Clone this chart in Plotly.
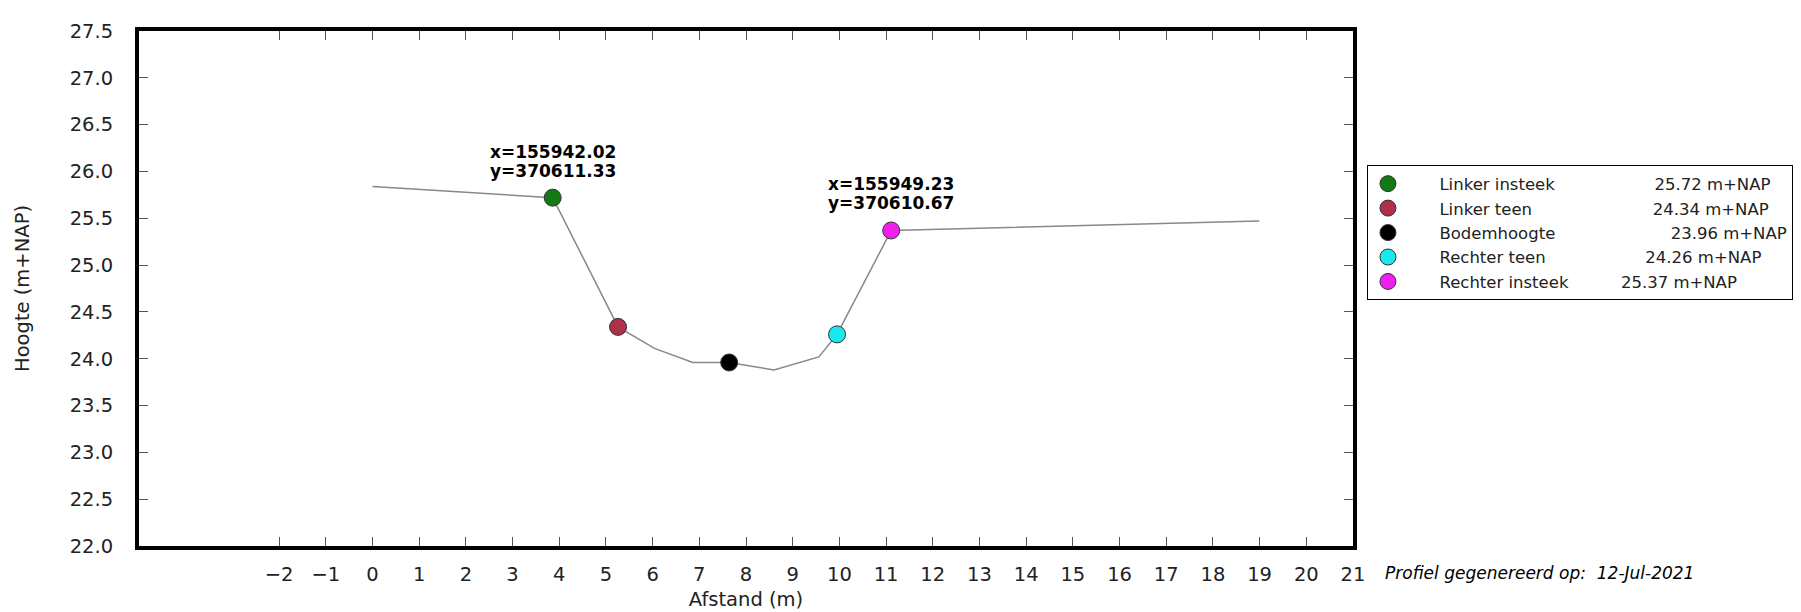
import plotly.graph_objects as go

# Profile line (afstand, hoogte)
profile_x = [0.0, 3.86, 5.26, 6.04, 6.86, 7.64, 8.60, 9.56, 9.95, 11.11, 18.99]
profile_y = [25.84, 25.72, 24.34, 24.11, 23.96, 23.96, 23.88, 24.02, 24.26, 25.37, 25.47]

# Characteristic points
point_names = ["Linker insteek", "Linker teen", "Bodemhoogte", "Rechter teen", "Rechter insteek"]
point_x = [3.86, 5.26, 7.64, 9.95, 11.11]
point_y = [25.72, 24.34, 23.96, 24.26, 25.37]
point_colors = ["#137a13", "#b0304a", "#000000", "#19e8ec", "#f01ff0"]
point_gaps = [19, 23, 22, 19, 10]

# Coordinate annotations
annot_x = [3.86, 11.11]
annot_y = [25.72, 25.37]
annot_line1 = ["x=155942.02", "x=155949.23"]
annot_line2 = ["y=370611.33", "y=370610.67"]

x_ticks = list(range(-2, 22))
y_ticks = [22.0 + 0.5 * i for i in range(12)]

NB = "\u00a0"

fig = go.Figure()
fig.add_trace(go.Scatter(x=profile_x, y=profile_y, mode="lines",
                         line=dict(color="#888888", width=1.5), showlegend=False,
                         hoverinfo="skip"))
for n, x, y, c, g in zip(point_names, point_x, point_y, point_colors, point_gaps):
    label = NB * 6 + n + NB * g + f"{y:.2f} m+NAP"
    fig.add_trace(go.Scatter(x=[x], y=[y], mode="markers", name=label,
                             marker=dict(color=c, size=17,
                                         line=dict(color="#333333", width=1))))

for ax, ay, t1, t2 in zip(annot_x, annot_y, annot_line1, annot_line2):
    fig.add_annotation(x=ax, y=ay, yshift=46, text="<b>" + t1 + "</b>", showarrow=False,
                       xref="x", yref="y", font=dict(size=17, color="black"))
    fig.add_annotation(x=ax, y=ay, yshift=27, text="<b>" + t2 + "</b>", showarrow=False,
                       xref="x", yref="y", font=dict(size=17, color="black"))

fig.add_annotation(x=1.0247, y=-0.053, xref="paper", yref="paper", xanchor="left",
                   yanchor="middle", showarrow=False,
                   text="<i>Profiel gegenereerd op:  12-Jul-2021</i>",
                   font=dict(size=17, color="black"))

axis_common = dict(showline=True, linewidth=4, linecolor="black", mirror="ticks",
                   ticks="inside", ticklen=9, tickwidth=1, tickcolor="#555555",
                   showgrid=False, zeroline=False,
                   tickfont=dict(size=19.5, color="#222222"))

fig.update_xaxes(range=[-5, 21], tickvals=x_ticks,
                 ticktext=[("\u2212" + str(-v)) if v < 0 else str(v) for v in x_ticks],
                 title=dict(text="Afstand (m)", font=dict(size=19.5, color="#222222"), standoff=8),
                 ticklabelstandoff=8, **axis_common)
fig.update_yaxes(range=[22, 27.5], tickvals=y_ticks,
                 ticktext=[f"{v:.1f}" for v in y_ticks],
                 title=dict(text="Hoogte (m+NAP)", font=dict(size=19.5, color="#222222"), standoff=36),
                 ticklabelstandoff=18, **axis_common)

fig.update_layout(width=1801, height=612,
                  margin=dict(l=130, r=456, t=21, b=67),
                  plot_bgcolor="white", paper_bgcolor="white",
                  font=dict(family="DejaVu Sans", color="#222222"),
                  legend=dict(x=1.0115, y=0.739, xanchor="left", yanchor="top",
                              bordercolor="black", borderwidth=1,
                              font=dict(size=16.5, color="#222222"),
                              bgcolor="white", tracegroupgap=0))

fig.write_html("out.html")
